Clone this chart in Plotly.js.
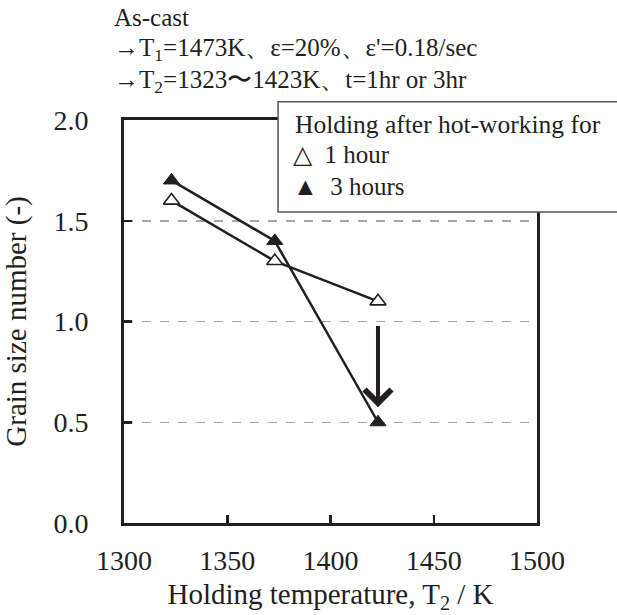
<!DOCTYPE html>
<html>
<head>
<meta charset="utf-8">
<script src="https://cdn.plot.ly/plotly-3.0.1.min.js"></script>
<style>html,body{margin:0;padding:0;background:#fff;}#chart{width:617px;height:615px;}</style>
</head>
<body>
<div id="chart"></div>
<script>
// Data
const temps = [1323, 1373, 1423];
const grain1h = [1.6, 1.3, 1.1];
const grain3h = [1.7, 1.4, 0.5];
const seriesNames = ["1 hour", "3 hours"];
const xTicks = [1300, 1350, 1400, 1450, 1500];
const yTicks = [0.0, 0.5, 1.0, 1.5, 2.0];
const headerLines = [
  "As-cast",
  "\u2192T<sub>1</sub>=1473K\u3001\u03b5=20%\u3001\u03b5'=0.18/sec",
  "\u2192T<sub>2</sub>=1323\u301c1423K\u3001t=1hr or 3hr"
];
const legendTitle = "Holding after hot-working for";
const arrowFrom = 1.02, arrowTo = 0.575, arrowX = 1423;

const FONT = "Liberation Serif, Times New Roman, serif";
const INK = "#231f20";

const traces = [
  {x: temps, y: grain1h, name: seriesNames[0], mode: "lines+markers", showlegend: false,
   line: {color: INK, width: 2.5},
   marker: {symbol: "triangle-up", size: 14, color: "#ffffff", line: {color: INK, width: 1.6}}},
  {x: temps, y: grain3h, name: seriesNames[1], mode: "lines+markers", showlegend: false,
   line: {color: INK, width: 2.5},
   marker: {symbol: "triangle-up", size: 14, color: INK, line: {color: INK, width: 1}}}
];

const annotations = [];
const headerY = [1.255, 1.176, 1.095];
headerLines.forEach((t, i) => annotations.push({
  xref: "paper", yref: "paper", x: -0.028, y: headerY[i], xanchor: "left", yanchor: "middle",
  text: t, showarrow: false, font: {family: FONT, size: 25, color: INK}
}));
// legend text
annotations.push({xref: "paper", yref: "paper", x: 0.41, y: 0.99, xanchor: "left", yanchor: "middle",
  text: legendTitle, showarrow: false, font: {family: FONT, size: 25.5, color: INK}});
annotations.push({xref: "paper", yref: "paper", x: 0.405, y: 0.914, xanchor: "left", yanchor: "middle",
  text: "\u25b3  " + seriesNames[0], showarrow: false, font: {family: FONT, size: 25, color: INK}});
annotations.push({xref: "paper", yref: "paper", x: 0.405, y: 0.835, xanchor: "left", yanchor: "middle",
  text: "\u25b2  " + seriesNames[1], showarrow: false, font: {family: FONT, size: 25, color: INK}});
// arrow
annotations.push({x: arrowX, y: arrowTo, ax: arrowX, ay: arrowFrom, xref: "x", yref: "y", axref: "x", ayref: "y",
  text: " ", showarrow: true, arrowhead: 4, arrowsize: 1.3, arrowwidth: 4, arrowcolor: INK});

const layout = {
  width: 617, height: 615,
  margin: {l: 124, r: 80, t: 120, b: 92},
  paper_bgcolor: "#ffffff", plot_bgcolor: "#ffffff",
  showlegend: false,
  font: {family: FONT, color: INK},
  xaxis: {
    range: [1300, 1500], tickvals: xTicks, ticktext: xTicks.map(String),
    ticks: "inside", ticklen: 8, tickwidth: 2.5, tickcolor: INK,
    showline: true, linecolor: INK, linewidth: 3, mirror: true,
    showgrid: false, zeroline: false,
    tickfont: {family: FONT, size: 28, color: INK},
    ticklabelstandoff: 10,
    title: {text: "Holding temperature, T<sub>2</sub> / K", font: {family: FONT, size: 29, color: INK}, standoff: 10},
    automargin: false
  },
  yaxis: {
    range: [0, 2.0], tickvals: yTicks, ticktext: yTicks.map(v => v.toFixed(1)),
    ticks: "inside", ticklen: 8, tickwidth: 2.5, tickcolor: INK,
    showline: true, linecolor: INK, linewidth: 3, mirror: true,
    showgrid: true, gridcolor: "#a6a6a6", gridwidth: 1.5, griddash: "dash",
    zeroline: false,
    tickfont: {family: FONT, size: 28, color: INK},
    ticklabelstandoff: 27,
    title: {text: "Grain size number (-)", font: {family: FONT, size: 29, color: INK}, standoff: 20},
    automargin: false
  },
  shapes: [{type: "rect", xref: "paper", yref: "paper", x0: 0.373, x1: 1.4, y0: 0.772, y1: 1.045,
    line: {color: "#555555", width: 1.5}, fillcolor: "#ffffff", layer: "above"}],
  annotations: annotations
};

Plotly.newPlot("chart", traces, layout, {staticPlot: true, displayModeBar: false});
</script>
</body>
</html>
